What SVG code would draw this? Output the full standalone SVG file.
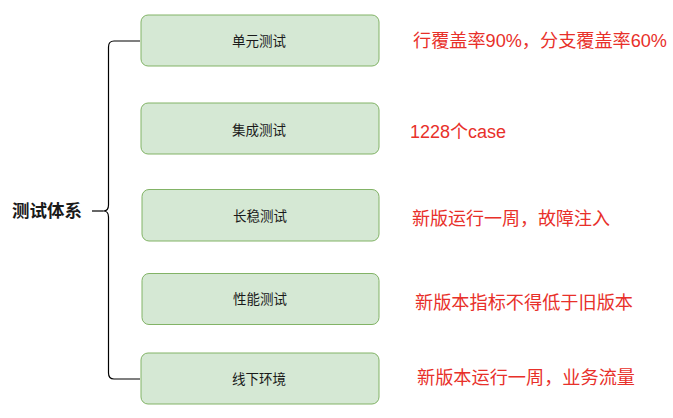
<svg xmlns="http://www.w3.org/2000/svg" width="673" height="418" viewBox="0 0 673 418">
<style>
.box{fill:#d5e8d4;stroke:#82b366;stroke-width:1}
.lbl{font-family:"Liberation Sans","Noto Sans CJK SC",sans-serif;font-size:13.5px;fill:#1a1a1a;text-anchor:middle;dominant-baseline:central}
.note{font-family:"Liberation Sans","Noto Sans CJK SC",sans-serif;font-size:18px;fill:#e8302a;dominant-baseline:central}
.root{font-family:"Liberation Sans","Noto Sans CJK SC",sans-serif;font-size:17.5px;font-weight:bold;fill:#1a1a1a;dominant-baseline:central}
.con{fill:none;stroke:#000;stroke-width:1.2}
</style>
<rect width="673" height="418" fill="#fff"/>
<g id="connectors">
<path class="con" d="M140,41 H114 Q108.5,41 108.5,47 V205 Q108.5,211 103.5,211 Q108.5,211 108.5,217 V373 Q108.5,379 114,379 H140"/>
<path class="con" d="M92,211 H103.5"/>
</g>
<g id="root"><text class="root" x="12" y="211">测试体系</text></g>
<g id="n1"><rect class="box" x="141" y="15" width="238" height="51" rx="7"/><text class="lbl" x="259" y="41">单元测试</text></g>
<g id="n2"><rect class="box" x="141" y="103" width="238" height="51" rx="7"/><text class="lbl" x="259" y="130">集成测试</text></g>
<g id="n3"><rect class="box" x="142" y="189.5" width="237" height="51.5" rx="7"/><text class="lbl" x="260" y="216.5">长稳测试</text></g>
<g id="n4"><rect class="box" x="142" y="273.5" width="237" height="51" rx="7"/><text class="lbl" x="260" y="299.5">性能测试</text></g>
<g id="n5"><rect class="box" x="141" y="353" width="238" height="51" rx="7"/><text class="lbl" x="259" y="379">线下环境</text></g>
<g id="notes">
<text class="note" x="413" y="41" textLength="254" lengthAdjust="spacingAndGlyphs">行覆盖率90%，分支覆盖率60%</text>
<text class="note" x="410" y="132">1228个case</text>
<text class="note" x="412" y="219" textLength="198" lengthAdjust="spacingAndGlyphs">新版运行一周，故障注入</text>
<text class="note" x="415" y="303" textLength="218" lengthAdjust="spacingAndGlyphs">新版本指标不得低于旧版本</text>
<text class="note" x="417" y="378" textLength="218" lengthAdjust="spacingAndGlyphs">新版本运行一周，业务流量</text>
</g>
</svg>
